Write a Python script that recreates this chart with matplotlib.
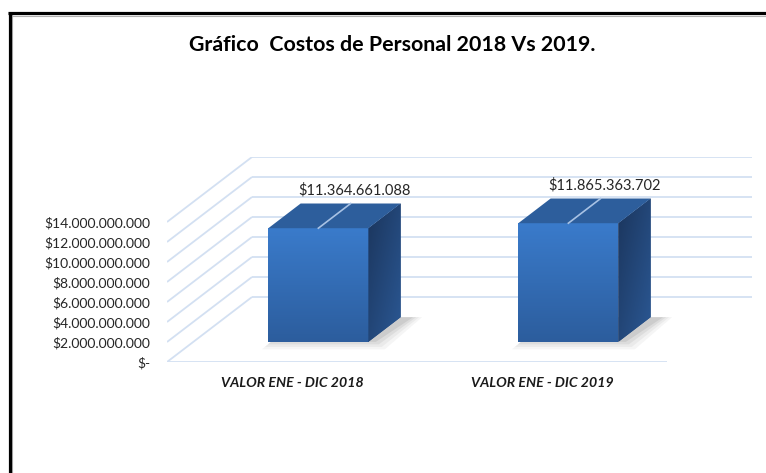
import numpy as np
import matplotlib
matplotlib.use("Agg")
import matplotlib.pyplot as plt
from matplotlib.patches import Polygon
from matplotlib.lines import Line2D
from matplotlib.colors import LinearSegmentedColormap

# ---------------- data ----------------
title = "Gráfico  Costos de Personal 2018 Vs 2019."
categories = ["VALOR ENE - DIC 2018", "VALOR ENE - DIC 2019"]
values = [11364661088, 11865363702]
value_labels = ["$11.364.661.088", "$11.865.363.702"]
tick_values = [0, 2e9, 4e9, 6e9, 8e9, 10e9, 12e9, 14e9]
tick_labels = ["$-", "$2.000.000.000", "$4.000.000.000", "$6.000.000.000",
               "$8.000.000.000", "$10.000.000.000", "$12.000.000.000",
               "$14.000.000.000"]

# ---------------- style / geometry ----------------
FONT = ["Lato", "DejaVu Sans"]
plt.rcParams["font.family"] = FONT
W, H = 766, 473
DX, DY = 0.34, 6.5e9        # depth offset of the 3-D box (data units)
D0, D1 = 0.31, 0.69         # bar depth range (fraction of box depth)
BAR_W = 0.4
GRID = "#d3e0f2"

fig = plt.figure(figsize=(W / 100, H / 100), dpi=100)
fig.patch.set_facecolor("white")

# outer border (left + top)
fig.add_artist(Line2D([11.6 / W, 11.6 / W], [0, 1 - 15 / H], color="#b0b0b0", lw=0.8))
fig.add_artist(Line2D([11.6 / W, 1], [1 - 15.8 / H, 1 - 15.8 / H], color="#b0b0b0", lw=0.8))
fig.add_artist(Line2D([9.5 / W, 9.5 / W], [0, 1 - 12 / H], color="black", lw=2.3,
                      solid_capstyle="butt"))
fig.add_artist(Line2D([8 / W, 1], [1 - 13.5 / H, 1 - 13.5 / H], color="black", lw=2.3,
                      solid_capstyle="butt"))

fig.text(392 / W, 1 - 45 / H, title, ha="center", va="center",
         fontsize=15.4, fontweight="bold", color="black")

ax = fig.add_axes([167 / W, 1 - 362 / H, (752 - 167) / W, (362 - 157) / H])
ax.set_xlim(-0.5, 1.5 + DX)
ax.set_ylim(0, tick_values[-1] + DY)
ax.set_autoscale_on(False)
for s in ax.spines.values():
    s.set_visible(False)
ax.set_facecolor("none")

# axes ticks (front plane)
ax.set_yticks(tick_values)
ax.set_yticklabels(tick_labels, fontsize=10, color="#262626")
ax.set_xticks(range(len(categories)))
ax.set_xticklabels(categories, fontsize=10.2, fontweight="bold", fontstyle="italic",
                   color="#1a1a1a")
ax.tick_params(axis="y", length=0, pad=12)
ax.tick_params(axis="x", length=0, pad=11)

# gridlines: side wall diagonals + back wall horizontals
x_left = -0.5
x_right_back = 1.5 + DX
for v in tick_values:
    ax.plot([x_left, x_left + DX], [v, v + DY], color=GRID, lw=1.3, zorder=1,
            solid_capstyle="butt")
    ax.plot([x_left + DX, x_right_back], [v + DY, v + DY], color=GRID, lw=1.3,
            zorder=1, solid_capstyle="butt")
# floor front edge
ax.plot([x_left, 1.5], [0, 0], color=GRID, lw=1.3, zorder=1, solid_capstyle="butt")


def grad_image(ax, patch, extent, colors, mode, z):
    n = 200
    u = np.linspace(0, 1, n)
    if mode == "v":
        img = np.tile(u.reshape(-1, 1), (1, 2))
    else:  # diagonal: light at top-left, dark at bottom-right
        uu, vv = np.meshgrid(u, u)
        img = (uu + (1 - vv)) / 2
    cmap = LinearSegmentedColormap.from_list("g", colors)
    im = ax.imshow(img, extent=extent, origin="lower", cmap=cmap, aspect="auto",
                   zorder=z, interpolation="bilinear", vmin=0, vmax=1)
    im.set_clip_path(patch)


xs = np.arange(len(values))
x_front = xs + D0 * DX
bottoms = np.full(len(values), D0 * DY)
bars = ax.bar(x_front, values, width=BAR_W, bottom=bottoms, color="#3570b8",
              zorder=3, linewidth=0)

dd = D1 - D0
for i, (rect, v) in enumerate(zip(bars, values)):
    xl = rect.get_x()
    xr = xl + rect.get_width()
    yb = rect.get_y()
    yt = yb + rect.get_height()

    # shadow on the floor
    for k, a in enumerate([0.05, 0.06, 0.08, 0.1]):
        g = (3 - k) * 0.012
        gy = (3 - k) * 0.25e9
        sh = Polygon([(xl + 0.01 - g, yb - gy), (xr + 0.03 + g, yb - gy),
                      (xr + dd * DX + 0.05 + g, yb + dd * DY),
                      (xl + dd * DX, yb + dd * DY)],
                     closed=True, facecolor="#404040", edgecolor="none",
                     alpha=a, zorder=2)
        ax.add_patch(sh)

    # front gradient
    grad_image(ax, rect, [xl, xr, yb, yt], ["#2c5d9d", "#3a7bcb"], "v", 3.1)

    # side face
    side = Polygon([(xr, yb), (xr + dd * DX, yb + dd * DY),
                    (xr + dd * DX, yt + dd * DY), (xr, yt)],
                   closed=True, facecolor="#234a80", edgecolor="none", zorder=3)
    ax.add_patch(side)
    grad_image(ax, side, [xr, xr + dd * DX, yb, yt + dd * DY],
               ["#1b355c", "#2b5894"], "d", 3.1)

    # top face
    top = Polygon([(xl, yt), (xr, yt), (xr + dd * DX, yt + dd * DY),
                   (xl + dd * DX, yt + dd * DY)],
                  closed=True, facecolor="#2d5e9c", edgecolor="none", zorder=3.2)
    ax.add_patch(top)

    # leader line across the top
    cx0 = xs[i] + D0 * DX
    cx1 = xs[i] + D1 * DX
    ax.plot([cx0, cx1], [v + D0 * DY, v + D1 * DY], color="#a8c2e4", lw=1.2,
            zorder=4)
    ax.annotate(value_labels[i], xy=(cx1, v + D1 * DY), xytext=(3, 4),
                textcoords="offset points", ha="center", va="bottom",
                fontsize=10.5, color="#262626", zorder=5)

fig.savefig("out.png", dpi=100)
